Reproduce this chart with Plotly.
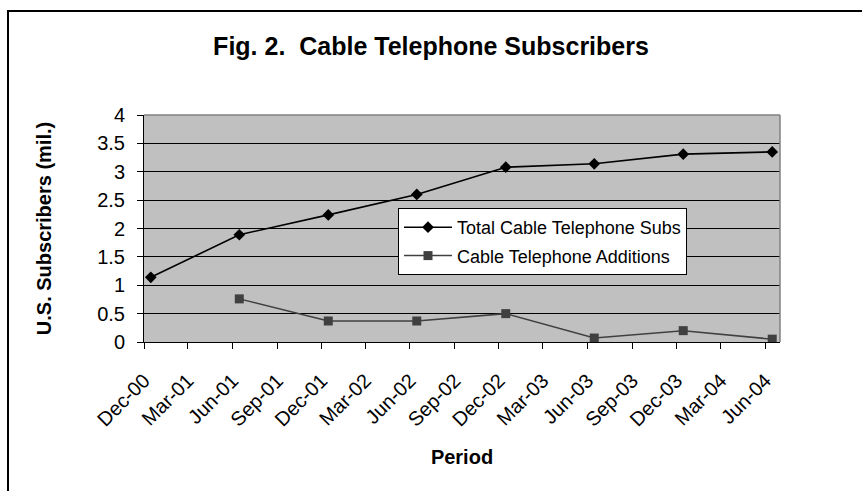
import plotly.graph_objects as go

# ---- data ----
total_dates = ["2000-12-15", "2001-06-15", "2001-12-15", "2002-06-15",
               "2002-12-15", "2003-06-15", "2003-12-15", "2004-06-15"]
total_subs = [1.14, 1.89, 2.24, 2.60, 3.08, 3.14, 3.31, 3.35]

add_dates = ["2001-06-15", "2001-12-15", "2002-06-15",
             "2002-12-15", "2003-06-15", "2003-12-15", "2004-06-15"]
additions = [0.76, 0.37, 0.37, 0.50, 0.07, 0.20, 0.05]

title_text = "Fig. 2.&nbsp; Cable Telephone Subscribers"
y_title = "U.S. Subscribers (mil.)"
x_title = "Period"

FONT = "Liberation Sans, Arial, sans-serif"

W, H = 862, 491
ML, MR, MT, MB = 144, 82, 115, 149
PW = W - ML - MR
PH = H - MT - MB


def px_x(p):
    return (p - ML) / PW


def px_y(p):
    return (H - MB - p) / PH


fig = go.Figure()
fig.add_trace(go.Scatter(
    x=total_dates, y=total_subs, mode="lines+markers",
    name="Total Cable Telephone Subs", legendgroup="a",
    line=dict(color="#000000", width=1.6),
    marker=dict(symbol="diamond", size=9, color="#000000"),
))
fig.add_trace(go.Scatter(
    x=add_dates, y=additions, mode="lines+markers",
    name="Cable Telephone Additions", legendgroup="b",
    line=dict(color="#404040", width=1.5),
    marker=dict(symbol="square", size=9, color="#404040"),
))

fig.update_layout(
    width=W, height=H,
    margin=dict(l=ML, r=MR, t=MT, b=MB, autoexpand=False),
    paper_bgcolor="#FFFFFF",
    plot_bgcolor="#C0C0C0",
    font=dict(family=FONT, size=20, color="#000000"),
    title=dict(text="<b>" + title_text + "</b>", x=0.5, xanchor="center",
               y=1 - 46 / H, yanchor="middle", yref="container",
               font=dict(family=FONT, size=25, color="#000000")),
    showlegend=True,
    legend=dict(x=px_x(398), y=px_y(208), xanchor="left", yanchor="top",
                bgcolor="#FFFFFF", bordercolor="#000000", borderwidth=1,
                font=dict(family=FONT, size=18, color="#000000"),
                tracegroupgap=2, itemwidth=48),
    xaxis=dict(
        type="date",
        range=["2000-12-01", "2004-07-01"],
        tick0="2000-12-01", dtick="M3", tickformat="%b-%y",
        tickangle=-45,
        ticks="outside", ticklen=6, tickcolor="#000000", tickwidth=1,
        ticklabelstandoff=12,
        showline=True, linecolor="#000000", linewidth=1,
        showgrid=False, zeroline=False,
        tickfont=dict(family=FONT, size=20),
        title=dict(text="<b>" + x_title + "</b>", standoff=20,
                   font=dict(family=FONT, size=20)),
    ),
    yaxis=dict(
        range=[0, 4], dtick=0.5, tick0=0,
        ticks="outside", ticklen=6, tickcolor="#000000", tickwidth=1,
        ticklabelstandoff=8,
        showline=True, linecolor="#000000", linewidth=1,
        showgrid=True, gridcolor="#000000", gridwidth=1,
        zeroline=False,
        tickfont=dict(family=FONT, size=20),
        title=dict(text="<b>" + y_title + "</b>", standoff=40,
                   font=dict(family=FONT, size=20)),
    ),
)

# plot-area border (top & right, gray)
fig.add_shape(type="line", xref="paper", yref="paper", x0=0, x1=1, y0=1, y1=1,
              line=dict(color="#808080", width=1.5), layer="above")
fig.add_shape(type="line", xref="paper", yref="paper", x0=1, x1=1, y0=0, y1=1,
              line=dict(color="#808080", width=1.5), layer="above")

# outer chart border
fig.add_shape(type="rect", xref="paper", yref="paper",
              x0=px_x(8), x1=px_x(900), y0=px_y(520), y1=px_y(11),
              line=dict(color="#000000", width=2), fillcolor="rgba(0,0,0,0)",
              layer="below")

fig.write_html("out.html")
